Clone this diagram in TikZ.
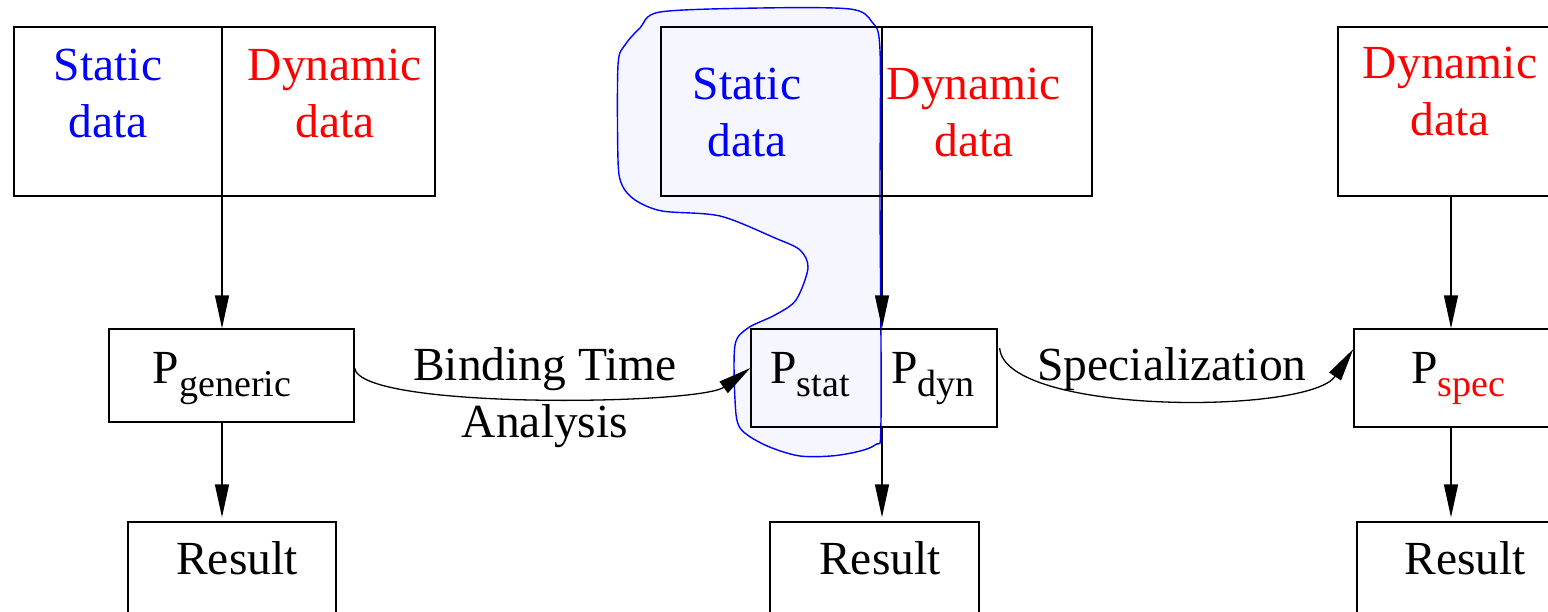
\documentclass[tikz,border=0pt]{standalone}
\usepackage{fontspec}
\setmainfont{Liberation Serif}
\usetikzlibrary{arrows.meta}
\newcommand\lsub[1]{\raisebox{-13pt}{\fontsize{38}{38}\selectfont #1}}
\definecolor{blobfill}{RGB}{245,246,255}
\begin{document}
\begin{tikzpicture}[x=1pt,y=-1pt,
  box/.style={draw=black, line width=1.3pt, inner sep=0pt},
  lbl/.style={font=\fontsize{47.5}{57.5}\selectfont, inner sep=0pt, align=center, anchor=base},
  arr/.style={-{Triangle[length=33pt,width=14pt]}, line width=1.3pt},
]
\useasboundingbox (0,0) rectangle (1548,611);
\clip (0,0) rectangle (1548,611);

% static-part blob
\draw[blue, line width=1.4pt, fill=blobfill] plot[smooth cycle, tension=0.5] coordinates {
  (660,12) (760,8) (850,9) (872,22) (880,50) (880,200) (881,420) (875,445)
  (840,455) (800,456) (765,445) (740,428) (735,400) (735,345) (748,328)
  (775,315) (796,300) (808,268) (800,250) (775,238) (720,216) (662,211)
  (635,200) (622,185) (618,160) (618,65) (625,45) (640,28)};

% boxes
\node[box, minimum width=421pt, minimum height=169pt] (tl) at (224.5,111.5) {};
\node[box, minimum width=431pt, minimum height=169pt] (tm) at (876.5,111.5) {};
\node[box, minimum width=282pt, minimum height=169pt] (tr) at (1479,111.5) {};
\node[box, minimum width=245pt, minimum height=93pt] (pg) at (231.5,375.5) {};
\node[box, minimum width=246pt, minimum height=98pt] (pm) at (874,378) {};
\node[box, minimum width=266pt, minimum height=98pt] (psp) at (1487,378) {};
\node[box, minimum width=208pt, minimum height=138pt] (rl) at (232,591) {};
\node[box, minimum width=209pt, minimum height=138pt] (rm) at (874.5,591) {};
\node[box, minimum width=263pt, minimum height=138pt] (rr) at (1488.5,591) {};

% texts (anchor=base is the baseline of the last line)
\node[lbl, text=blue] (tlS) at (108,137.5) {Static\\data};
\node[lbl, text=red] (tlD) at (335,137.5) {Dynamic\\data};
\node[lbl, text=blue] (tmS) at (747,156.5) {Static\\data};
\node[lbl, text=red] (tmD) at (974,156.5) {Dynamic\\data};
\node[lbl, text=red] (trD) at (1450,135.5) {Dynamic\\data};
\node[lbl] (pgT) at (222,383) {P\lsub{generic}};
\node[lbl] (psT) at (810,383) {P\lsub{stat}};
\node[lbl] (pdT) at (933,383) {P\lsub{dyn}};
\node[lbl] (pspT) at (1458,383) {P\lsub{\textcolor{red}{spec}}};
\node[lbl] (rlT) at (237,574) {Result};
\node[lbl] (rmT) at (880,574) {Result};
\node[lbl] (rrT) at (1465,574) {Result};
\node[lbl] (bta) at (545,437.5) {Binding Time\\Analysis};
\node[lbl] (spz) at (1172,380) {Specialization};

% dividers / arrows
\coordinate (dl) at (222,27);
\coordinate (dm) at (882,27);
\coordinate (dr) at (1451,196);
\draw[arr] (dl) -- (dl |- pg.north);
\draw[arr] (dm) -- (dm |- pm.north);
\draw[arr] (dr) -- (dr |- psp.north);
\draw[arr, shorten >=4pt] (dl |- pg.south) -- (dl |- rl.north);
\draw[arr, shorten >=4pt] (dm |- pm.south) -- (dm |- rm.north);
\draw[arr, shorten >=4pt] (dr |- psp.south) -- (dr |- rr.north);

% curved transformations
\draw[arr] ([yshift=7.5pt]pg.east) .. controls +(5,42) and +(-51,37) .. ([yshift=10pt]pm.west);
\draw[arr] ([xshift=2pt,yshift=30pt]pm.east) .. controls +(5,67) and +(-44,66) .. ([yshift=29pt]psp.west);
\end{tikzpicture}
\end{document}
